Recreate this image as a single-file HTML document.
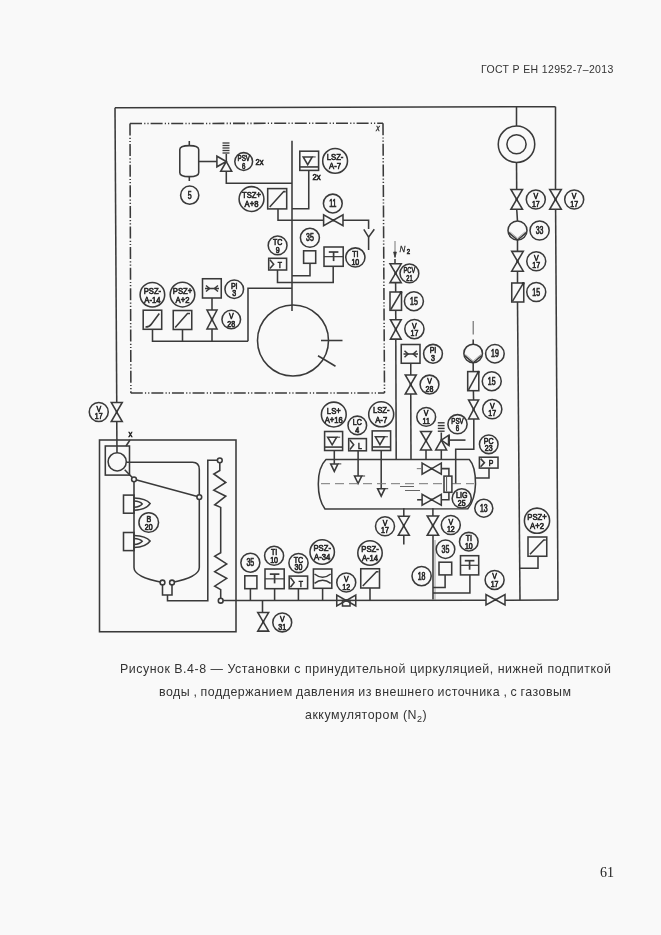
<!DOCTYPE html>
<html><head><meta charset="utf-8"><style>
html,body{margin:0;padding:0;background:#f9f9f9;}
body{width:661px;height:935px;position:relative;overflow:hidden;}
svg{position:absolute;left:0;top:0;will-change:transform;}
svg polyline,svg path,svg circle,svg rect{fill:none;stroke:#3a3a3a;stroke-width:1.55;stroke-linejoin:miter;}
svg rect{stroke-width:1.55;}
svg .dd polyline{stroke-dasharray:12 2.2 1.2 2 1.2 2;}
svg .dash2 polyline{stroke-dasharray:9 5;stroke-width:1;stroke:#777;}
svg text{font-family:"Liberation Sans",sans-serif;fill:#2a2a2a;stroke:#2a2a2a;stroke-width:0.7;}
svg text.ti{font-style:italic;stroke-width:0.3;}
.cap{font-size:12.4px;letter-spacing:0.52px;}
.hdr{position:absolute;will-change:transform;font-family:"Liberation Sans",sans-serif;color:#333;white-space:nowrap;}
</style></head><body>
<div class="hdr" style="left:481px;top:63.3px;font-size:10.5px;letter-spacing:0.35px;">ГОСТ Р ЕН 12952-7–2013</div>
<svg width="661" height="935" viewBox="0 0 661 935">
<polyline points="115 107.8 555.5 106.7"/>
<polyline points="115 107.8 116.75 403"/>
<polyline points="555.5 106.7 555.5 189.5"/>
<polyline points="555.6 209.3 558 600"/>
<g class="dd">
<polyline points="130 123.5 383 123.2"/>
<polyline points="130 123.5 130.9 393"/>
<polyline points="130.75 393 384.5 393"/>
<polyline points="383 123.2 384.5 393"/>
</g>
<text class="ti" transform="translate(378 131.3) scale(0.9 1)" font-size="8.5" text-anchor="middle">x</text>
<path d="M179.8 149.5 Q179.8 145.6 189.3 145.6 Q198.7 145.6 198.7 149.5 L198.7 172.7 Q198.7 176.6 189.3 176.6 Q179.8 176.6 179.8 172.7 Z"/>
<polyline points="189.3 141 189.3 145.6"/>
<polyline points="189.3 176.6 189.3 181"/>
<circle cx="189.7" cy="195.2" r="9.1"/>
<text class="t" transform="translate(189.7 198.8) scale(0.7 1)" font-size="10" text-anchor="middle">5</text>
<polyline points="198.7 161.5 216.9 161.5"/>
<path d="M216.9 156.2 L216.9 166.8 L226.3 161.5 Z M226.3 161.5 L220.7 171.3 L231.7 171.3 Z"/>
<polyline points="226.3 161.5 226.3 153.9"/>
<polyline points="222.5 143 229.5 143" style="stroke-width:1.3"/>
<polyline points="222.5 145.5 229.5 145.5" style="stroke-width:1.3"/>
<polyline points="222.5 148 229.5 148" style="stroke-width:1.3"/>
<polyline points="222.5 150.5 229.5 150.5" style="stroke-width:1.3"/>
<polyline points="222.5 153 229.5 153" style="stroke-width:1.3"/>
<polyline points="226.3 171.3 226.3 183.3 292 183.3"/>
<circle cx="243.7" cy="161.5" r="8.9"/>
<text class="t" transform="translate(243.7 161) scale(0.66 1)" font-size="9.4" text-anchor="middle">PSV</text>
<text class="t" transform="translate(243.7 168.6) scale(0.66 1)" font-size="9.4" text-anchor="middle">6</text>
<text class="t" transform="translate(259.5 165.3) scale(0.8 1)" font-size="9.5" text-anchor="middle">2x</text>
<polyline points="292 140.75 292 311"/>
<rect x="299.8" y="151.2" width="18.8" height="19.2"/>
<polyline points="299.8 166.94 318.6 166.94" style="stroke-width:1.6"/>
<path d="M303.2 156.96 L312.2 156.96 L307.7 164.64 Z"/>
<polyline points="312.2 156.96 315.7 156.96" style="stroke-width:1"/>
<circle cx="335.1" cy="160.9" r="12.4"/>
<text class="t" transform="translate(335.1 159.9) scale(0.8 1)" font-size="9.6" text-anchor="middle">LSZ-</text>
<text class="t" transform="translate(335.1 169.2) scale(0.8 1)" font-size="9.6" text-anchor="middle">A-7</text>
<text class="t" transform="translate(316.6 180.4) scale(0.8 1)" font-size="9.8" text-anchor="middle">2x</text>
<polyline points="308.75 170.4 308.75 208.75 292 208.75"/>
<rect x="267.7" y="188.6" width="19" height="20.3"/>
<polyline points="269.7 206.9 283.7 191.6 285.7 191.6"/>
<circle cx="251.5" cy="199" r="12.4"/>
<text class="t" transform="translate(251.5 198) scale(0.8 1)" font-size="9.6" text-anchor="middle">TSZ+</text>
<text class="t" transform="translate(251.5 207.3) scale(0.8 1)" font-size="9.6" text-anchor="middle">A+8</text>
<polyline points="278 208.9 278 220.3 323.6 220.3"/>
<path d="M323.6 214.85 L323.6 225.75 L333.3 220.3 Z M343 214.85 L343 225.75 L333.3 220.3 Z"/>
<circle cx="333.3" cy="220.3" r="1.2" style="fill:#333;stroke:none"/>
<circle cx="332.8" cy="203.5" r="9.4"/>
<text class="t" transform="translate(332.8 207.1) scale(0.7 1)" font-size="10" text-anchor="middle">11</text>
<polyline points="343 220.3 368.6 220.3 368.6 229"/>
<polyline points="363.8 229.3 368.6 237.2 374.3 229.3"/>
<polyline points="368.6 237.2 368.6 250"/>
<rect x="268.7" y="258.3" width="17.9" height="11.7"/>
<polyline points="269.9 259.7 273.7 264.15 269.9 268.6"/>
<text class="t" transform="translate(279.98 267.8) scale(0.75 1)" font-size="9.2" text-anchor="middle">T</text>
<circle cx="277.6" cy="245.4" r="9.4"/>
<text class="t" transform="translate(277.6 244.9) scale(0.8 1)" font-size="8.8" text-anchor="middle">TC</text>
<text class="t" transform="translate(277.6 252.5) scale(0.8 1)" font-size="8.8" text-anchor="middle">9</text>
<rect x="303.6" y="250.8" width="12.1" height="12.5"/>
<circle cx="309.9" cy="237.8" r="9.5"/>
<text class="t" transform="translate(309.9 241.4) scale(0.7 1)" font-size="10" text-anchor="middle">35</text>
<rect x="324" y="247" width="19.2" height="19.3"/>
<polyline points="324 256.65 343.2 256.65" style="stroke-width:1.2"/>
<polyline points="328.8 252.02 338.4 252.02" style="stroke-width:1.7"/>
<polyline points="333.6 252.02 333.6 261.09" style="stroke-width:1.7"/>
<circle cx="355.35" cy="257.45" r="9.6"/>
<text class="t" transform="translate(355.35 256.95) scale(0.8 1)" font-size="8.8" text-anchor="middle">TI</text>
<text class="t" transform="translate(355.35 264.55) scale(0.8 1)" font-size="8.8" text-anchor="middle">10</text>
<polyline points="277.5 270 277.5 282.4 333.2 282.4 333.2 266.3"/>
<polyline points="310 263.3 310 275.8 292 275.8"/>
<polyline points="248 341.25 248 288.2 292 288.2"/>
<circle cx="293" cy="340.5" r="35.5"/>
<polyline points="321 340.5 342.5 340.5"/>
<polyline points="318 355.75 335.5 366.25"/>
<circle cx="152.4" cy="294.7" r="12.3"/>
<text class="t" transform="translate(152.4 293.7) scale(0.8 1)" font-size="9.6" text-anchor="middle">PSZ-</text>
<text class="t" transform="translate(152.4 303) scale(0.8 1)" font-size="9.6" text-anchor="middle">A-14</text>
<circle cx="182.5" cy="294.6" r="12.3"/>
<text class="t" transform="translate(182.5 293.6) scale(0.8 1)" font-size="9.6" text-anchor="middle">PSZ+</text>
<text class="t" transform="translate(182.5 302.9) scale(0.8 1)" font-size="9.6" text-anchor="middle">A+2</text>
<rect x="143.2" y="310.2" width="18.5" height="19.1"/>
<path d="M145.5 327 Q149.5 327 151.5 324 L159.3 313.5" style="fill:none"/>
<rect x="173.25" y="310.5" width="18.5" height="19"/>
<polyline points="175.2 327.5 187.5 313.5 190 313.5"/>
<rect x="202.5" y="278.75" width="18.75" height="19.25"/>
<polyline points="205 288.5 219 288.5"/>
<polyline points="206 285.5 209.5 288.5 206 291.5"/>
<polyline points="218 285.5 214.5 288.5 218 291.5"/>
<circle cx="234.25" cy="289.25" r="9.3"/>
<text class="t" transform="translate(234.25 288.75) scale(0.8 1)" font-size="8.8" text-anchor="middle">PI</text>
<text class="t" transform="translate(234.25 296.35) scale(0.8 1)" font-size="8.8" text-anchor="middle">3</text>
<polyline points="212 298 212 310"/>
<path d="M207 310 L217 310 L212 319.5 Z M207 329 L217 329 L212 319.5 Z"/>
<circle cx="212" cy="319.5" r="1.2" style="fill:#333;stroke:none"/>
<circle cx="231.25" cy="319.5" r="9.3"/>
<text class="t" transform="translate(231.25 319) scale(0.8 1)" font-size="8.8" text-anchor="middle">V</text>
<text class="t" transform="translate(231.25 326.6) scale(0.8 1)" font-size="8.8" text-anchor="middle">28</text>
<polyline points="152.5 329.3 152.5 341.25 248 341.25"/>
<polyline points="182.5 329.5 182.5 341.25"/>
<polyline points="212 329 212 341.25"/>
<polyline points="516.5 106.5 516.5 126"/>
<circle cx="516.5" cy="144.25" r="18.25"/>
<circle cx="516.5" cy="144.25" r="9.6"/>
<polyline points="516.5 162.5 516.7 189.5"/>
<path d="M510.9 189.5 L522.5 189.5 L516.7 199.4 Z M510.9 209.3 L522.5 209.3 L516.7 199.4 Z"/>
<circle cx="516.7" cy="199.4" r="1.2" style="fill:#333;stroke:none"/>
<circle cx="535.8" cy="199.5" r="9.5"/>
<text class="t" transform="translate(535.8 199) scale(0.8 1)" font-size="8.8" text-anchor="middle">V</text>
<text class="t" transform="translate(535.8 206.6) scale(0.8 1)" font-size="8.8" text-anchor="middle">17</text>
<path d="M549.7 189.5 L561.3 189.5 L555.5 199.4 Z M549.7 209.3 L561.3 209.3 L555.5 199.4 Z"/>
<circle cx="555.5" cy="199.4" r="1.2" style="fill:#333;stroke:none"/>
<circle cx="574.2" cy="199.5" r="9.5"/>
<text class="t" transform="translate(574.2 199) scale(0.8 1)" font-size="8.8" text-anchor="middle">V</text>
<text class="t" transform="translate(574.2 206.6) scale(0.8 1)" font-size="8.8" text-anchor="middle">17</text>
<polyline points="516.7 209.3 517.5 221"/>
<circle cx="517.5" cy="230.5" r="9.5"/>
<path d="M508.8 232.7 L517.5 240 L526.2 232.7" style="fill:none"/>
<path d="M509.6 231.5 L517.5 238.2 L525.4 231.5" style="stroke-width:0.8;fill:none;stroke:#999"/>
<circle cx="539.6" cy="230.5" r="9.6"/>
<text class="t" transform="translate(539.6 234.1) scale(0.7 1)" font-size="10" text-anchor="middle">33</text>
<polyline points="517.5 240 517.5 251"/>
<path d="M511.7 251.35 L523.3 251.35 L517.5 261.25 Z M511.7 271.15 L523.3 271.15 L517.5 261.25 Z"/>
<circle cx="517.5" cy="261.25" r="1.2" style="fill:#333;stroke:none"/>
<circle cx="536.25" cy="261.25" r="9.5"/>
<text class="t" transform="translate(536.25 260.75) scale(0.8 1)" font-size="8.8" text-anchor="middle">V</text>
<text class="t" transform="translate(536.25 268.35) scale(0.8 1)" font-size="8.8" text-anchor="middle">17</text>
<polyline points="517.5 271 517.5 283"/>
<rect x="511.75" y="283" width="12" height="19"/>
<polyline points="512.55 301.2 522.95 283.8"/>
<circle cx="523.25" cy="283.5" r="1.4" style="fill:#333;stroke:none"/>
<circle cx="536.25" cy="292" r="9.5"/>
<text class="t" transform="translate(536.25 295.6) scale(0.7 1)" font-size="10" text-anchor="middle">15</text>
<polyline points="517.5 302 520 600"/>
<polyline points="395 241 395 257" style="stroke-width:1;stroke:#777"/>
<path d="M393.6 252 L395 257.5 L396.4 252 Z" style="stroke-width:0.8;fill:#333"/>
<polyline points="395 259 395 263.8"/>
<text class="ti" transform="translate(399.5 251.8) scale(0.85 1)" font-size="9.5" text-anchor="start">N</text>
<text class="t" transform="translate(406.8 254) scale(0.85 1)" font-size="7" text-anchor="start">2</text>
<path d="M390 263.8 L401.2 263.8 L395.6 273.2 Z M390 282.6 L401.2 282.6 L395.6 273.2 Z"/>
<circle cx="395.6" cy="273.2" r="1.2" style="fill:#333;stroke:none"/>
<circle cx="409.4" cy="273.4" r="9.4"/>
<text class="t" transform="translate(409.4 272.9) scale(0.62 1)" font-size="9.2" text-anchor="middle">PCV</text>
<text class="t" transform="translate(409.4 280.5) scale(0.62 1)" font-size="9.2" text-anchor="middle">21</text>
<polyline points="395.6 282.6 395.7 292"/>
<rect x="390" y="292" width="11.5" height="18.3"/>
<polyline points="390.8 309.5 400.7 292.8"/>
<circle cx="401" cy="292.5" r="1.4" style="fill:#333;stroke:none"/>
<circle cx="413.9" cy="301.2" r="9.5"/>
<text class="t" transform="translate(413.9 304.8) scale(0.7 1)" font-size="10" text-anchor="middle">15</text>
<polyline points="395.7 310.3 395.8 319.7"/>
<path d="M390.4 319.7 L401.2 319.7 L395.8 329.4 Z M390.4 339.1 L401.2 339.1 L395.8 329.4 Z"/>
<circle cx="395.8" cy="329.4" r="1.2" style="fill:#333;stroke:none"/>
<circle cx="414.4" cy="329.1" r="9.6"/>
<text class="t" transform="translate(414.4 328.6) scale(0.8 1)" font-size="8.8" text-anchor="middle">V</text>
<text class="t" transform="translate(414.4 336.2) scale(0.8 1)" font-size="8.8" text-anchor="middle">17</text>
<polyline points="395.8 339.1 396.2 459"/>
<rect x="401.25" y="344.5" width="18.75" height="18.75"/>
<polyline points="403.5 354 418 354"/>
<polyline points="404.5 350.8 408 354 404.5 357.2"/>
<polyline points="416.8 350.8 413.3 354 416.8 357.2"/>
<circle cx="433" cy="353.75" r="9.4"/>
<text class="t" transform="translate(433 353.25) scale(0.8 1)" font-size="8.8" text-anchor="middle">PI</text>
<text class="t" transform="translate(433 360.85) scale(0.8 1)" font-size="8.8" text-anchor="middle">3</text>
<polyline points="410.75 363.25 410.75 375"/>
<path d="M405.25 375 L416.25 375 L410.75 384.5 Z M405.25 394 L416.25 394 L410.75 384.5 Z"/>
<circle cx="410.75" cy="384.5" r="1.2" style="fill:#333;stroke:none"/>
<circle cx="429.5" cy="384.5" r="9.4"/>
<text class="t" transform="translate(429.5 384) scale(0.8 1)" font-size="8.8" text-anchor="middle">V</text>
<text class="t" transform="translate(429.5 391.6) scale(0.8 1)" font-size="8.8" text-anchor="middle">28</text>
<polyline points="410.75 394 411 459"/>
<polyline points="473.2 321 473.2 334.5" style="stroke-width:1.1;stroke:#666"/>
<polyline points="473.2 339.5 473.2 344"/>
<circle cx="473.15" cy="353.45" r="9.3"/>
<path d="M464.65 355.65 L473.15 362.75 L481.65 355.65" style="fill:none"/>
<path d="M465.45 354.45 L473.15 360.95 L480.85 354.45" style="stroke-width:0.8;fill:none;stroke:#999"/>
<circle cx="494.9" cy="353.75" r="9.3"/>
<text class="t" transform="translate(494.9 357.35) scale(0.7 1)" font-size="10" text-anchor="middle">19</text>
<polyline points="473.2 362.8 473.2 371.6"/>
<rect x="467.7" y="371.6" width="11.1" height="19.1"/>
<polyline points="468.5 389.9 478 372.4"/>
<circle cx="478.3" cy="372.1" r="1.4" style="fill:#333;stroke:none"/>
<circle cx="491.75" cy="381.15" r="9.5"/>
<text class="t" transform="translate(491.75 384.75) scale(0.7 1)" font-size="10" text-anchor="middle">15</text>
<polyline points="473.4 390.7 473.6 399.9"/>
<path d="M468.55 399.9 L478.65 399.9 L473.6 409.45 Z M468.55 419 L478.65 419 L473.6 409.45 Z"/>
<circle cx="473.6" cy="409.45" r="1.2" style="fill:#333;stroke:none"/>
<circle cx="492.25" cy="409.15" r="9.6"/>
<text class="t" transform="translate(492.25 408.65) scale(0.8 1)" font-size="8.8" text-anchor="middle">V</text>
<text class="t" transform="translate(492.25 416.25) scale(0.8 1)" font-size="8.8" text-anchor="middle">17</text>
<polyline points="473.8 419 473.8 449.2 455.7 449.2 455.7 484"/>
<path d="M326 459.5 L469.3 459.5 Q475.5 466 475.5 484 Q475 500 467.8 508.8 L325 509 Q318.3 500 318.3 484 Q318.3 467 326 459.5 Z"/>
<circle cx="483.8" cy="508.2" r="9"/>
<text class="t" transform="translate(483.8 511.8) scale(0.7 1)" font-size="10" text-anchor="middle">13</text>
<circle cx="333.8" cy="414.5" r="12.4"/>
<text class="t" transform="translate(333.8 413.5) scale(0.8 1)" font-size="9.6" text-anchor="middle">LS+</text>
<text class="t" transform="translate(333.8 422.8) scale(0.8 1)" font-size="9.6" text-anchor="middle">A+16</text>
<rect x="324.6" y="431.5" width="18" height="19"/>
<polyline points="324.6 447.08 342.6 447.08" style="stroke-width:1.6"/>
<path d="M327.66 437.2 L336.66 437.2 L332.16 444.8 Z"/>
<polyline points="336.66 437.2 340.16 437.2" style="stroke-width:1"/>
<polyline points="334.3 450.5 334.3 463.9"/>
<path d="M330.7 463.9 L337.9 463.9 L334.3 471.4 Z"/>
<polyline points="337.9 463.9 341.3 463.9" style="stroke-width:1"/>
<circle cx="357.3" cy="425.4" r="9.3"/>
<text class="t" transform="translate(357.3 424.9) scale(0.8 1)" font-size="8.8" text-anchor="middle">LC</text>
<text class="t" transform="translate(357.3 432.5) scale(0.8 1)" font-size="8.8" text-anchor="middle">4</text>
<rect x="348.7" y="438.6" width="17.7" height="12.2"/>
<polyline points="349.9 440 353.7 444.7 349.9 449.4"/>
<text class="t" transform="translate(359.85 448.6) scale(0.75 1)" font-size="9.2" text-anchor="middle">L</text>
<polyline points="358.1 450.8 358.1 476"/>
<path d="M354.5 476 L361.7 476 L358.1 483.5 Z"/>
<polyline points="361.7 476 365.1 476" style="stroke-width:1"/>
<circle cx="381.2" cy="414.3" r="12.5"/>
<text class="t" transform="translate(381.2 413.3) scale(0.8 1)" font-size="9.6" text-anchor="middle">LSZ-</text>
<text class="t" transform="translate(381.2 422.6) scale(0.8 1)" font-size="9.6" text-anchor="middle">A-7</text>
<rect x="372.2" y="430.9" width="18.4" height="19.6"/>
<polyline points="372.2 446.97 390.6 446.97" style="stroke-width:1.6"/>
<path d="M375.43 436.78 L384.43 436.78 L379.93 444.62 Z"/>
<polyline points="384.43 436.78 387.93 436.78" style="stroke-width:1"/>
<polyline points="381.2 450.5 381.2 488.7"/>
<path d="M377.6 488.7 L384.8 488.7 L381.2 496.2 Z"/>
<polyline points="384.8 488.7 388.2 488.7" style="stroke-width:1"/>
<g class="dash2">
<polyline points="321 483.7 444 483.7"/>
</g>
<polyline points="452 483.7 461 483.7" style="stroke-width:1;stroke:#777"/>
<polyline points="466 483.7 474 483.7" style="stroke-width:1;stroke:#777"/>
<polyline points="400 486.5 414 486.5" style="stroke-width:1;stroke:#666"/>
<polyline points="405 490.5 420 490.5" style="stroke-width:1;stroke:#666"/>
<circle cx="426.2" cy="416.9" r="9.4"/>
<text class="t" transform="translate(426.2 416.4) scale(0.8 1)" font-size="8.8" text-anchor="middle">V</text>
<text class="t" transform="translate(426.2 424) scale(0.8 1)" font-size="8.8" text-anchor="middle">11</text>
<path d="M420.55 431.5 L431.45 431.5 L426 440.7 Z M420.55 449.9 L431.45 449.9 L426 440.7 Z"/>
<circle cx="426" cy="440.7" r="1.2" style="fill:#333;stroke:none"/>
<polyline points="426 449.9 426 459"/>
<circle cx="457.5" cy="424.2" r="9.6"/>
<text class="t" transform="translate(457.5 423.7) scale(0.66 1)" font-size="9.4" text-anchor="middle">PSV</text>
<text class="t" transform="translate(457.5 431.3) scale(0.66 1)" font-size="9.4" text-anchor="middle">6</text>
<path d="M441.3 440.1 L435.7 449.9 L446.6 449.9 Z"/>
<path d="M441.3 440.1 L448.9 435.1 L448.9 445.4 Z"/>
<polyline points="448.9 435.1 448.9 445.4" style="stroke-width:2.2"/>
<polyline points="448.9 440.1 465.5 440.1" style="stroke-width:1.6"/>
<polyline points="441.3 440.1 441.3 432.5"/>
<polyline points="437.8 422.8 444.6 422.8" style="stroke-width:1.4"/>
<polyline points="437.8 425.6 444.6 425.6" style="stroke-width:1.4"/>
<polyline points="437.8 428.4 444.6 428.4" style="stroke-width:1.4"/>
<polyline points="437.8 431.2 444.6 431.2" style="stroke-width:1.4"/>
<polyline points="441.3 449.9 441.3 459"/>
<path d="M422.1 463.2 L422.1 474.1 L431.7 468.65 Z M441.3 463.2 L441.3 474.1 L431.7 468.65 Z"/>
<circle cx="431.7" cy="468.65" r="1.2" style="fill:#333;stroke:none"/>
<polyline points="416.8 468.65 422.1 468.65" style="stroke-width:1;stroke:#777"/>
<polyline points="441.3 468.6 448.9 468.6 448.9 476.1"/>
<rect x="444" y="476.1" width="7.9" height="16.2"/>
<polyline points="446.6 477 446.6 491.5" style="stroke-width:0.9"/>
<path d="M422.1 494.35 L422.1 505.25 L431.7 499.8 Z M441.3 494.35 L441.3 505.25 L431.7 499.8 Z"/>
<circle cx="431.7" cy="499.8" r="1.2" style="fill:#333;stroke:none"/>
<polyline points="417.1 499.8 422.1 499.8"/>
<polyline points="441.3 499.8 448.9 499.8 448.9 492.3"/>
<circle cx="461.75" cy="498.4" r="9.6"/>
<text class="t" transform="translate(461.75 497.9) scale(0.8 1)" font-size="8.8" text-anchor="middle">LIG</text>
<text class="t" transform="translate(461.75 505.5) scale(0.8 1)" font-size="8.8" text-anchor="middle">25</text>
<circle cx="488.75" cy="444.3" r="9.3"/>
<text class="t" transform="translate(488.75 443.8) scale(0.8 1)" font-size="8.8" text-anchor="middle">PC</text>
<text class="t" transform="translate(488.75 451.4) scale(0.8 1)" font-size="8.8" text-anchor="middle">23</text>
<rect x="479.4" y="457.2" width="18.6" height="10.9"/>
<polyline points="480.6 458.6 484.4 462.65 480.6 466.7"/>
<text class="t" transform="translate(491.12 465.9) scale(0.75 1)" font-size="9.2" text-anchor="middle">P</text>
<polyline points="489 468.1 489 477.9 475 477.9"/>
<polyline points="403.8 508.3 403.8 516.3"/>
<path d="M398.3 516.3 L409.3 516.3 L403.8 525.8 Z M398.3 535.3 L409.3 535.3 L403.8 525.8 Z"/>
<circle cx="403.8" cy="525.8" r="1.2" style="fill:#333;stroke:none"/>
<polyline points="403.8 535.3 403.8 544.6"/>
<circle cx="385" cy="526.25" r="9.5"/>
<text class="t" transform="translate(385 525.75) scale(0.8 1)" font-size="8.8" text-anchor="middle">V</text>
<text class="t" transform="translate(385 533.35) scale(0.8 1)" font-size="8.8" text-anchor="middle">17</text>
<polyline points="432.9 508.3 432.9 515.9"/>
<path d="M427.2 515.9 L438.6 515.9 L432.9 525.6 Z M427.2 535.3 L438.6 535.3 L432.9 525.6 Z"/>
<circle cx="432.9" cy="525.6" r="1.2" style="fill:#333;stroke:none"/>
<circle cx="450.8" cy="525" r="9.5"/>
<text class="t" transform="translate(450.8 524.5) scale(0.8 1)" font-size="8.8" text-anchor="middle">V</text>
<text class="t" transform="translate(450.8 532.1) scale(0.8 1)" font-size="8.8" text-anchor="middle">12</text>
<polyline points="433 535.3 433 599.6"/>
<polyline points="435 540 435 599.6" style="stroke-width:0.8;stroke:#888"/>
<circle cx="421.6" cy="576.1" r="9.6"/>
<text class="t" transform="translate(421.6 579.7) scale(0.7 1)" font-size="10" text-anchor="middle">18</text>
<circle cx="445.5" cy="549.25" r="9.3"/>
<text class="t" transform="translate(445.5 552.85) scale(0.7 1)" font-size="10" text-anchor="middle">35</text>
<rect x="439" y="562.2" width="12.7" height="12.7"/>
<polyline points="445.1 574.9 445.1 587.5 433 587.5"/>
<circle cx="468.8" cy="541.65" r="9.3"/>
<text class="t" transform="translate(468.8 541.15) scale(0.8 1)" font-size="8.8" text-anchor="middle">TI</text>
<text class="t" transform="translate(468.8 548.75) scale(0.8 1)" font-size="8.8" text-anchor="middle">10</text>
<rect x="460.5" y="555.7" width="18.2" height="19.2"/>
<polyline points="460.5 565.3 478.7 565.3" style="stroke-width:1.2"/>
<polyline points="464.8 560.69 474.4 560.69" style="stroke-width:1.7"/>
<polyline points="469.6 560.69 469.6 569.72" style="stroke-width:1.7"/>
<polyline points="469.9 574.9 469.9 593 433 593"/>
<circle cx="537" cy="520.7" r="12.6"/>
<text class="t" transform="translate(537 519.7) scale(0.8 1)" font-size="9.6" text-anchor="middle">PSZ+</text>
<text class="t" transform="translate(537 529) scale(0.8 1)" font-size="9.6" text-anchor="middle">A+2</text>
<rect x="528" y="537" width="18.75" height="19.25"/>
<polyline points="530 554.25 543.75 540 545.75 540"/>
<polyline points="538 556.25 538 568.25 519.7 568.25"/>
<path d="M486 594.55 L486 605.05 L495.5 599.8 Z M505 594.55 L505 605.05 L495.5 599.8 Z"/>
<circle cx="495.5" cy="599.8" r="1.2" style="fill:#333;stroke:none"/>
<circle cx="494.6" cy="579.9" r="9.5"/>
<text class="t" transform="translate(494.6 579.4) scale(0.8 1)" font-size="8.8" text-anchor="middle">V</text>
<text class="t" transform="translate(494.6 587) scale(0.8 1)" font-size="8.8" text-anchor="middle">17</text>
<polyline points="221 600.5 486 600.3"/>
<polyline points="505 600.2 558 600"/>
<circle cx="250.35" cy="562.65" r="9.5"/>
<text class="t" transform="translate(250.35 566.25) scale(0.7 1)" font-size="10" text-anchor="middle">35</text>
<rect x="244.8" y="575.8" width="12.1" height="12.9"/>
<polyline points="250.4 588.7 250.4 600.5"/>
<circle cx="274.1" cy="555.8" r="9.5"/>
<text class="t" transform="translate(274.1 555.3) scale(0.8 1)" font-size="8.8" text-anchor="middle">TI</text>
<text class="t" transform="translate(274.1 562.9) scale(0.8 1)" font-size="8.8" text-anchor="middle">10</text>
<rect x="265" y="569" width="19.2" height="19.7"/>
<polyline points="265 578.85 284.2 578.85" style="stroke-width:1.2"/>
<polyline points="269.8 574.12 279.4 574.12" style="stroke-width:1.7"/>
<polyline points="274.6 574.12 274.6 583.38" style="stroke-width:1.7"/>
<polyline points="274.6 588.7 274.6 600.5"/>
<circle cx="298.5" cy="563" r="9.6"/>
<text class="t" transform="translate(298.5 562.5) scale(0.8 1)" font-size="8.8" text-anchor="middle">TC</text>
<text class="t" transform="translate(298.5 570.1) scale(0.8 1)" font-size="8.8" text-anchor="middle">30</text>
<rect x="289.2" y="576.1" width="18.4" height="12.6"/>
<polyline points="290.4 577.5 294.2 582.4 290.4 587.3"/>
<text class="t" transform="translate(300.79 586.5) scale(0.75 1)" font-size="9.2" text-anchor="middle">T</text>
<polyline points="298.4 588.7 298.4 600.5"/>
<circle cx="322.2" cy="552" r="12.2"/>
<text class="t" transform="translate(322.2 551) scale(0.8 1)" font-size="9.6" text-anchor="middle">PSZ-</text>
<text class="t" transform="translate(322.2 560.3) scale(0.8 1)" font-size="9.6" text-anchor="middle">A-34</text>
<rect x="313.4" y="569" width="18.4" height="19.3"/>
<path d="M314.5 574 Q322.6 580.5 330.7 574 M314.5 583.4 Q322.6 577 330.7 583.4" style="fill:none"/>
<polyline points="322.6 588.3 322.6 600.5"/>
<circle cx="346.25" cy="582.5" r="9.5"/>
<text class="t" transform="translate(346.25 582) scale(0.8 1)" font-size="8.8" text-anchor="middle">V</text>
<text class="t" transform="translate(346.25 589.6) scale(0.8 1)" font-size="8.8" text-anchor="middle">12</text>
<path d="M336.75 595 L336.75 606 L346.25 600.5 Z M355.75 595 L355.75 606 L346.25 600.5 Z"/>
<circle cx="346.25" cy="600.5" r="1.2" style="fill:#333;stroke:none"/>
<rect x="342.5" y="600.5" width="7.5" height="5.5"/>
<circle cx="370" cy="553" r="12.2"/>
<text class="t" transform="translate(370 552) scale(0.8 1)" font-size="9.6" text-anchor="middle">PSZ-</text>
<text class="t" transform="translate(370 561.3) scale(0.8 1)" font-size="9.6" text-anchor="middle">A-14</text>
<rect x="360.75" y="568.75" width="18.75" height="19.25"/>
<polyline points="362.75 586 376.5 571.75 378.5 571.75"/>
<polyline points="370 588 370 600.5"/>
<polyline points="262.5 600.5 262.5 612.5"/>
<path d="M257.75 612.5 L268.65 612.5 L263.2 621.8 Z M257.75 631.1 L268.65 631.1 L263.2 621.8 Z"/>
<circle cx="263.2" cy="621.8" r="1.2" style="fill:#333;stroke:none"/>
<circle cx="282.25" cy="622.4" r="9.45"/>
<text class="t" transform="translate(282.25 621.9) scale(0.8 1)" font-size="8.8" text-anchor="middle">V</text>
<text class="t" transform="translate(282.25 629.5) scale(0.8 1)" font-size="8.8" text-anchor="middle">31</text>
<polyline points="116.75 422 117 452.7"/>
<path d="M111.25 402.5 L122.25 402.5 L116.75 412 Z M111.25 421.5 L122.25 421.5 L116.75 412 Z"/>
<circle cx="116.75" cy="412" r="1.2" style="fill:#333;stroke:none"/>
<circle cx="98.75" cy="412" r="9.5"/>
<text class="t" transform="translate(98.75 411.5) scale(0.8 1)" font-size="8.8" text-anchor="middle">V</text>
<text class="t" transform="translate(98.75 419.1) scale(0.8 1)" font-size="8.8" text-anchor="middle">17</text>
<rect x="99.5" y="440" width="136.5" height="191.75"/>
<rect x="105.3" y="446" width="24.2" height="29.1"/>
<circle cx="117.2" cy="461.8" r="9.1"/>
<text class="t" transform="translate(130.5 437) scale(0.9 1)" font-size="8.5" text-anchor="middle">x</text>
<polyline points="126 446 130 440"/>
<path d="M126.3 462.2 L192.5 462.2 Q199.3 462.2 199.3 469.5 L199.3 567.5 Q199.3 577 172 582.5" style="fill:none"/>
<path d="M134 479.3 L134 567.5 Q134 577 162.5 582.5" style="fill:none"/>
<polyline points="124.7 469.7 134 479.3"/>
<polyline points="134 479.3 199.3 497.1"/>
<rect x="123.5" y="495.1" width="10.5" height="18.1"/>
<path d="M134 498.1 Q146 498.6 150.1 503.6 Q146 509.6 134 510.2" style="fill:none"/>
<path d="M134 501.1 Q140 501.4 142.2 503.9 Q140 506.7 134 507.2" style="fill:none"/>
<rect x="123.5" y="532.5" width="10.5" height="18.1"/>
<path d="M134 535.5 Q146 536 150.1 541 Q146 547 134 547.6" style="fill:none"/>
<path d="M134 538.5 Q140 538.8 142.2 541.3 Q140 544.1 134 544.6" style="fill:none"/>
<circle cx="148.75" cy="522.5" r="9.8"/>
<text class="t" transform="translate(148.75 522) scale(0.8 1)" font-size="8.8" text-anchor="middle">B</text>
<text class="t" transform="translate(148.75 529.6) scale(0.8 1)" font-size="8.8" text-anchor="middle">20</text>
<polyline points="162.5 582.5 162.5 595 172 595 172 582.5"/>
<polyline points="167.5 595 167.5 600.7 207.8 600.7 207.8 460.3 219.8 460.3"/>
<polyline points="219.8 460.3 219.8 470.5 213.8 474 225.8 482.5 213.8 490.2 225.8 496.2 214.7 504.8 220.7 507.4 220.7 552.7 214.7 556.2 226.7 563.9 214.7 571.6 226.7 578.4 214.7 586.1 220.7 589.6 220.7 600.7"/>
<circle cx="134" cy="479.3" r="2.4" style="fill:#f9f9f9"/>
<circle cx="199.3" cy="497.1" r="2.4" style="fill:#f9f9f9"/>
<circle cx="162.5" cy="582.5" r="2.4" style="fill:#f9f9f9"/>
<circle cx="172" cy="582.5" r="2.4" style="fill:#f9f9f9"/>
<circle cx="219.8" cy="460.3" r="2.4" style="fill:#f9f9f9"/>
<circle cx="220.7" cy="600.7" r="2.4" style="fill:#f9f9f9"/>
</svg>
<div class="hdr cap" style="left:120px;top:661.5px;">Рисунок В.4-8 — Установки с принудительной циркуляцией, нижней подпиткой</div>
<div class="hdr cap" style="left:159px;top:684.6px;word-spacing:-0.8px;">воды , поддержанием давления из внешнего источника , с газовым</div>
<div class="hdr cap" style="left:305px;top:707.6px;">аккумулятором (N<sub style="font-size:9px;">2</sub>)</div>
<div class="hdr" style="left:600.3px;top:865.4px;font-size:14px;color:#222;font-family:'Liberation Serif',serif;">61</div>
</body></html>
